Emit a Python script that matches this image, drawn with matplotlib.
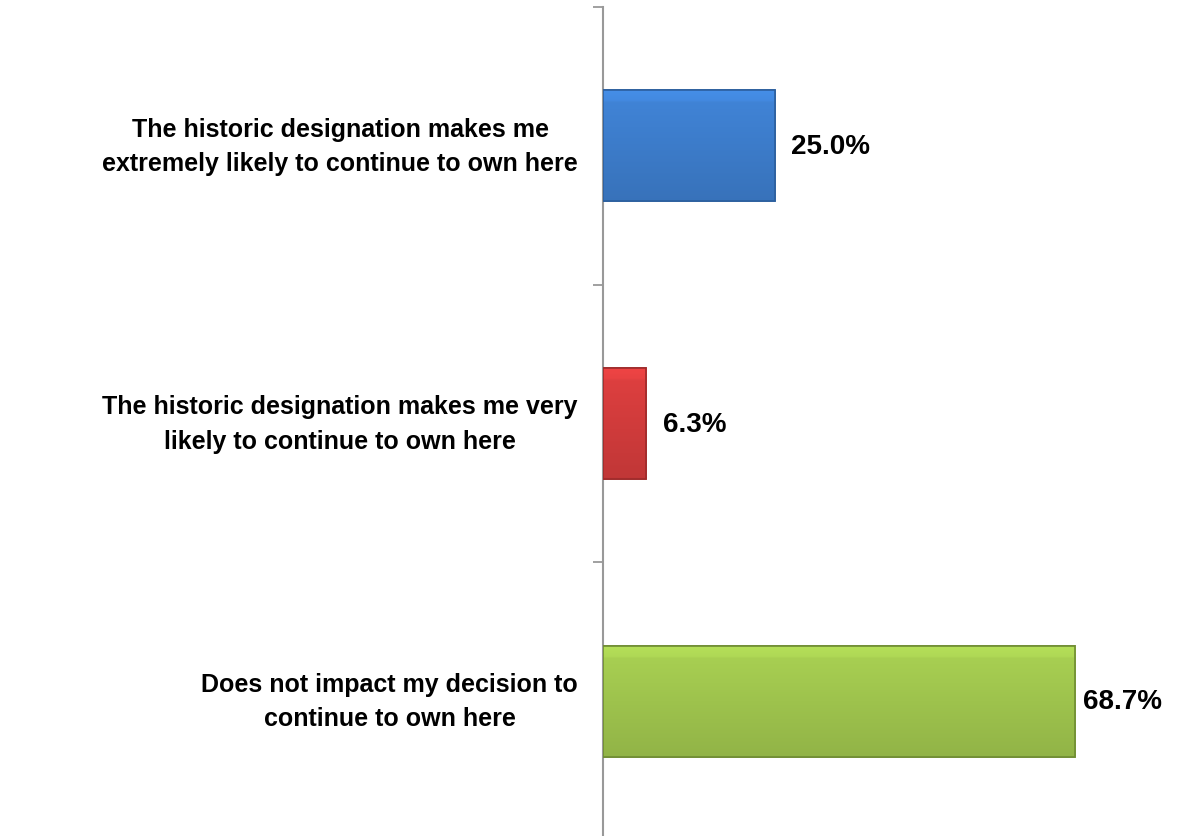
import matplotlib
matplotlib.use('Agg')
from matplotlib import pyplot as plt
from matplotlib.colors import to_rgb
import numpy as np

categories = [
    'The historic designation makes me\nextremely likely to continue to own here',
    'The historic designation makes me very\nlikely to continue to own here',
    'Does not impact my decision to\ncontinue to own here',
]
values = [25.0, 6.3, 68.7]
labels = ['25.0%', '6.3%', '68.7%']
colors = ['#3E7FCF', '#D63D3D', '#A2C84F']
edges = ['#2C5F9E', '#9E2B2B', '#6F8C33']

plt.rcParams['font.family'] = ['Liberation Sans', 'DejaVu Sans']

fig = plt.figure(figsize=(11.78, 8.37), dpi=100)
ax = fig.add_axes([603/1178, -4/837, 550/1178, 833/837])

y = list(range(len(values)))
bars = ax.barh(y, values, height=0.40, color=colors, edgecolor=edges, linewidth=1.2, zorder=3)

# vertical gradient inside each bar (light top, darker bottom) for the bevel look
for b, c, ec in zip(bars, colors, edges):
    x0, y0 = b.get_x(), b.get_y()
    w, h = b.get_width(), b.get_height()
    base = np.array(to_rgb(c))
    t = np.linspace(0, 1, 64)[:, None]
    shade = np.where(t < 0.1, 1.12 - 0.4 * t, 1.05 - 0.15 * t)
    img = np.clip(base[None, :] * shade, 0, 1)[:, None, :]
    im = ax.imshow(img, extent=(x0, x0 + w, y0 + h, y0), aspect='auto', zorder=3.5,
                   interpolation='bilinear')
    im.set_clip_path(b)
    ax.barh(y0 + h / 2, w, height=h, left=x0, color='none', edgecolor=ec,
            linewidth=1.2, zorder=4, align='center')

ax.set_xlim(0, 80)
ax.set_ylim(len(values) - 0.5, -0.5)

for yi, v, t in zip(y, values, labels):
    # labels that would run past the plot edge get pulled in next to the bar
    ax.text(min(v + 2.4, 69.8), yi, t, va='center', ha='left', fontsize=20, fontweight='bold', color='black')

ax.set_yticks([i - 0.5 for i in range(len(values) + 1)])
ax.set_yticklabels([])
ax.tick_params(axis='y', length=7, width=1.3, color='#999999', direction='out')
ax.set_xticks([])
for s in ['top', 'right', 'bottom']:
    ax.spines[s].set_visible(False)
ax.spines['left'].set_color('#999999')
ax.spines['left'].set_linewidth(1.5)

for yi, c in zip(y, categories):
    ax.text(-25 / 550 * 80, yi, c, va='center', ha='right', multialignment='center',
            fontsize=18, fontweight='bold', linespacing=1.55)

fig.savefig('out.png', dpi=100)
